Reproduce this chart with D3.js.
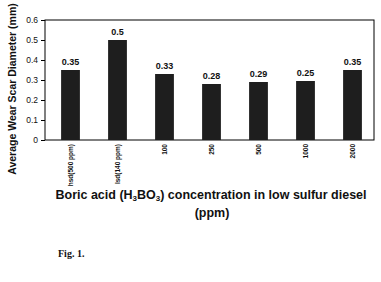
<!DOCTYPE html>
<html>
<head>
<meta charset="utf-8">
<script src="https://cdn.jsdelivr.net/npm/d3@7"></script>
<style>
  body { margin: 0; background: #fff; }
  svg { display: block; }
</style>
</head>
<body>
<svg width="381" height="282"></svg>
<script>
const categories = ["hsd(500 ppm)", "lsd(140 ppm)", "100", "250", "500", "1000", "2000"];
const wearValues = [0.35, 0.5, 0.33, 0.28, 0.29, 0.295, 0.35];
const barLabels = ["0.35", "0.5", "0.33", "0.28", "0.29", "0.25", "0.35"];
const yTicks = [0, 0.1, 0.2, 0.3, 0.4, 0.5, 0.6];

const svg = d3.select("svg"),
    plotLeft = 45, plotRight = 374,
    plotTop = 20, plotBottom = 140;

let scaleX = d3.scaleBand()
    .domain(categories)
    .range([47, 376])
    .paddingInner(0.6)
    .paddingOuter(0.3);

let scaleY = d3.scaleLinear()
    .domain([0, 0.6])
    .range([plotBottom, plotTop]);

// frame
svg.append("rect")
    .attr("x", plotLeft)
    .attr("y", plotTop)
    .attr("width", plotRight - plotLeft)
    .attr("height", plotBottom - plotTop)
    .attr("fill", "none")
    .attr("stroke", "#000")
    .attr("stroke-width", 1);

// y axis
let axisY = d3.axisLeft(scaleY)
    .tickValues(yTicks)
    .tickFormat(d => d === 0 ? "0" : d3.format(".1f")(d))
    .tickSize(4)
    .tickPadding(3);

let gy = svg.append("g")
    .attr("transform", `translate(${plotLeft}, 0)`)
    .call(axisY);
gy.select(".domain").remove();
gy.selectAll("text")
    .style("font-family", "Arial, 'Liberation Sans', sans-serif")
    .style("font-size", "8.5px")
    .attr("fill", "#111");

// x axis labels, rotated
let axisX = d3.axisBottom(scaleX).tickSize(0).tickPadding(4);
let gx = svg.append("g")
    .attr("transform", `translate(0, ${plotBottom})`)
    .call(axisX);
gx.select(".domain").remove();
gx.selectAll("text")
    .style("font-family", "Arial, 'Liberation Sans', sans-serif")
    .style("font-size", "6.5px")
    .style("font-weight", "bold")
    .attr("fill", "#111")
    .attr("text-anchor", "end")
    .attr("x", -4)
    .attr("y", 0)
    .attr("dy", "0.35em")
    .attr("transform", "rotate(-90)");

// bars
svg.selectAll(".bar")
    .data(wearValues)
    .enter()
    .append("rect")
    .attr("class", "bar")
    .attr("x", (d, i) => scaleX(categories[i]))
    .attr("y", d => scaleY(d))
    .attr("width", scaleX.bandwidth())
    .attr("height", d => plotBottom - scaleY(d))
    .attr("fill", "#1e1e1e");

// value labels
svg.selectAll(".val")
    .data(wearValues)
    .enter()
    .append("text")
    .attr("class", "val")
    .attr("x", (d, i) => scaleX(categories[i]) + scaleX.bandwidth() / 2)
    .attr("y", d => scaleY(d) - 5)
    .attr("text-anchor", "middle")
    .style("font-family", "Arial, 'Liberation Sans', sans-serif")
    .style("font-size", "9px")
    .style("font-weight", "bold")
    .attr("fill", "#111")
    .text((d, i) => barLabels[i]);

// y title
svg.append("text")
    .attr("transform", "translate(16, 89) rotate(-90)")
    .attr("text-anchor", "middle")
    .style("font-family", "Arial, 'Liberation Sans', sans-serif")
    .style("font-size", "10.5px")
    .style("font-weight", "bold")
    .attr("fill", "#111")
    .text("Average Wear Scar Diameter (mm)");

// x title
let xt = svg.append("text")
    .attr("x", 211)
    .attr("y", 199)
    .attr("text-anchor", "middle")
    .style("font-family", "Arial, 'Liberation Sans', sans-serif")
    .style("font-size", "12.5px")
    .style("font-weight", "bold")
    .attr("fill", "#111");
xt.append("tspan").text("Boric acid (H");
xt.append("tspan").attr("font-size", "8px").attr("dy", 2).text("3");
xt.append("tspan").attr("dy", -2).text("BO");
xt.append("tspan").attr("font-size", "8px").attr("dy", 2).text("3");
xt.append("tspan").attr("dy", -2).text(") concentration in low sulfur diesel");

svg.append("text")
    .attr("x", 212)
    .attr("y", 217)
    .attr("text-anchor", "middle")
    .style("font-family", "Arial, 'Liberation Sans', sans-serif")
    .style("font-size", "12.5px")
    .style("font-weight", "bold")
    .attr("fill", "#111")
    .text("(ppm)");

// caption
svg.append("text")
    .attr("x", 58)
    .attr("y", 257)
    .style("font-family", "'Liberation Serif', 'DejaVu Serif', serif")
    .style("font-size", "10px")
    .style("font-weight", "bold")
    .attr("fill", "#111")
    .text("Fig. 1.");
</script>
</body>
</html>
